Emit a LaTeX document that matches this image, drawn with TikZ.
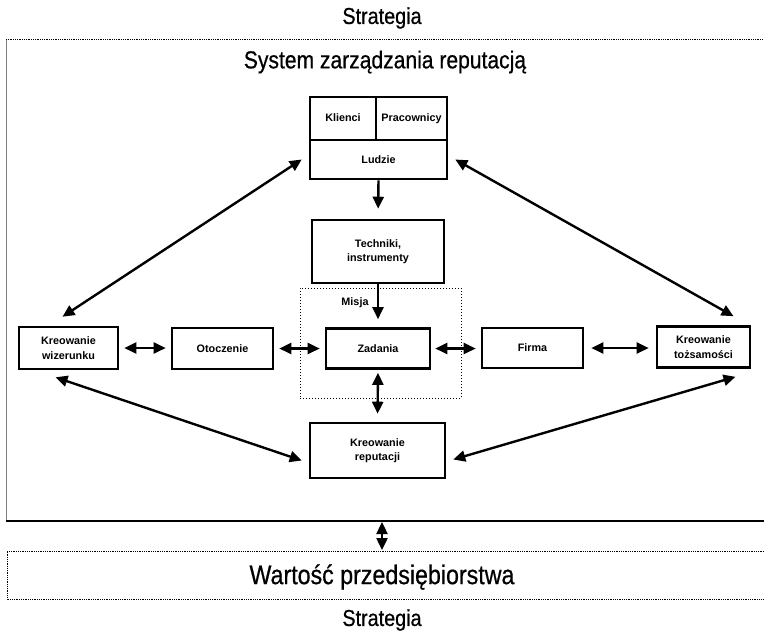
\documentclass[tikz,border=0pt]{standalone}
\usepackage{fontspec}
\setmainfont{Liberation Sans}
\newfontfamily\titlefont[FakeStretch=0.86,FakeBold=0.6]{Liberation Sans}
\usetikzlibrary{arrows.meta}
\begin{document}
\begin{tikzpicture}[x=1pt,y=-1pt,
  box/.style={draw, line width=2.6pt, inner sep=0pt, align=center,
    font=\fontsize{10.8}{14.5}\selectfont\bfseries},
  conn/.style={line width=2.4pt, -{Triangle[length=12pt,width=11pt]}},
  dconn/.style={line width=2.4pt, {Triangle[length=12pt,width=11pt]}-{Triangle[length=12pt,width=11pt]}},
  ttl/.style={inner sep=0pt, font=\titlefont\fontsize{23}{27}\selectfont},
  bigttl/.style={inner sep=0pt, font=\titlefont\fontsize{24.5}{28}\selectfont},
  valttl/.style={inner sep=0pt, font=\titlefont\fontsize{27}{30}\selectfont},
  frame/.style={line width=0.8pt},
  dotframe/.style={line width=0.8pt, densely dotted}]
\useasboundingbox (0,0) rectangle (764,633);

% titles
\node[ttl] (strtop) at (382,18) {Strategia};
\node[bigttl] (sys) at (385,62) {System zarządzania reputacją};
\node[valttl] (wart) at (382,577) {Wartość przedsiębiorstwa};
\node[ttl] (strbot) at (382,620) {Strategia};

% frames
\draw[frame, gray] (6,39) -- (6,521);
\draw[line width=1.5pt] (6,521) -- (764,521);
\draw[dotframe] (6,39) -- (764,39);
\draw[dotframe] (764,551) -- (7,551) -- (7,599) -- (764,599);
\coordinate (sysbot) at (382,521);
\coordinate (wartop) at (382,551);

% mission dotted box
\node[draw, dotted, line width=1pt, minimum width=161pt, minimum height=110pt, inner sep=0pt] (misja) at (380.5,343) {};
\node[font=\fontsize{10.8}{14}\selectfont\bfseries, inner sep=0pt] (misjalbl) at (355,303) {Misja};

% boxes
\node[box, text height=1.6ex, text depth=0.4ex, minimum width=66pt, minimum height=43pt] (klienci) at (343,118.5) {Klienci};
\node[box, text height=1.6ex, text depth=0.4ex, minimum width=71pt, minimum height=43pt] (prac) at (411.5,118.5) {Pracownicy};
\node[box, minimum width=137pt, minimum height=39pt] (ludzie) at (378.5,159.5) {Ludzie};
\node[box, minimum width=132pt, minimum height=63pt] (tech) at (378,251.5) {Techniki,\\instrumenty};
\node[box, minimum width=104pt, minimum height=40pt] (zad) at (378,348.5) {Zadania};
\node[box, minimum width=135pt, minimum height=55pt] (rep) at (377.5,450.5) {Kreowanie\\reputacji};
\node[box, minimum width=99pt, minimum height=42pt] (wiz) at (68.5,348) {Kreowanie\\wizerunku};
\node[box, minimum width=101pt, minimum height=41pt] (otocz) at (222.5,348.5) {Otoczenie};
\node[box, minimum width=101pt, minimum height=40pt] (firma) at (532.5,348) {Firma};
\node[box, minimum width=93pt, minimum height=41pt] (tozs) at (703.5,347) {Kreowanie\\tożsamości};

% vertical connectors
\draw[conn, shorten >=10pt] (ludzie.south) -- (tech.north);
\draw[conn, shorten >=8pt] (tech.south) -- (zad.north);
\draw[dconn, shorten <=3pt, shorten >=8pt] (zad.south) -- (rep.north);

% horizontal connectors
\draw[dconn, shorten <=5pt, shorten >=5pt] (wiz.east) -- (wiz.east -| otocz.west);
\draw[dconn, shorten <=5pt, shorten >=5pt] (otocz.east) -- (otocz.east -| zad.west);
\draw[dconn, shorten <=4pt, shorten >=5pt] (zad.east) -- (zad.east -| firma.west);
\draw[dconn, shorten <=7pt, shorten >=7pt] (firma.east) -- (firma.east -| tozs.west);

% diagonal connectors
\draw[dconn] ([xshift=-7pt]ludzie.west) -- ([xshift=-6pt,yshift=9pt]wiz.north);
\draw[dconn] ([xshift=7pt]ludzie.east) -- ([xshift=30pt,yshift=9pt]tozs.north);
\draw[dconn] ([xshift=-13pt,yshift=-7pt]wiz.south) -- ([xshift=-7pt,yshift=-10pt]rep.west);
\draw[dconn] ([xshift=32pt,yshift=-8pt]tozs.south) -- ([xshift=7pt,yshift=-9pt]rep.east);

% bottom connector
\draw[dconn, shorten <=1pt, shorten >=1pt] (sysbot) -- (wartop);
\end{tikzpicture}
\end{document}
